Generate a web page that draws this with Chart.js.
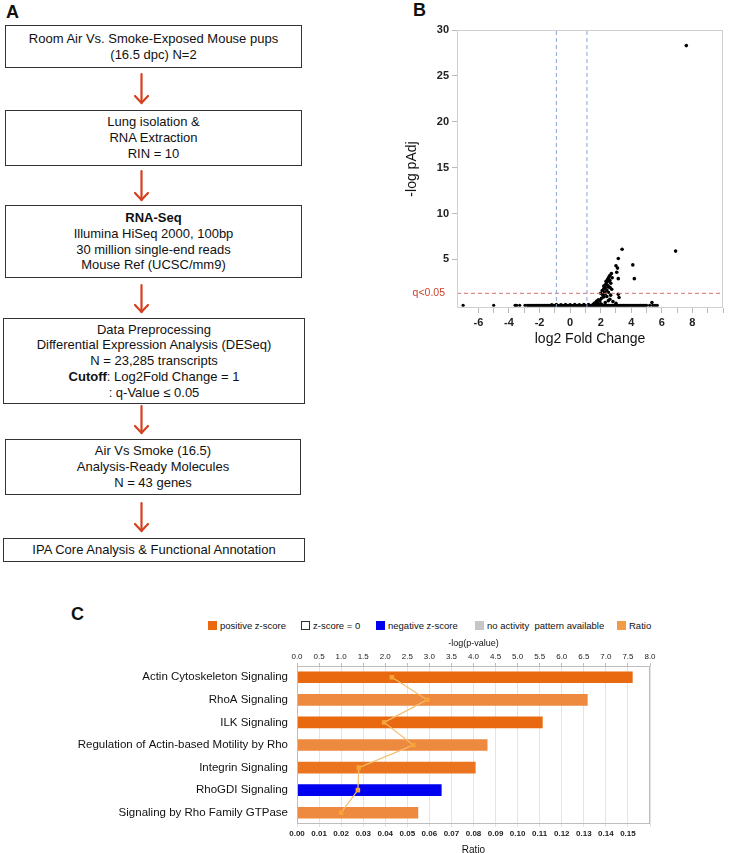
<!DOCTYPE html>
<html>
<head>
<meta charset="utf-8">
<script src="https://cdn.jsdelivr.net/npm/chart.js@4.4.0/dist/chart.umd.min.js"></script>
<style>
  html, body { margin: 0; padding: 0; background: #fff; }
  #page { position: relative; width: 730px; height: 853px; overflow: hidden;
    font-family: "Liberation Sans", Arial, Helvetica, sans-serif; color: #111; }
  .panel-label { position: absolute; font-weight: bold; font-size: 18px; line-height: 18px; }
  .box { position: absolute; border: 1px solid #333; box-sizing: border-box; display: flex;
    flex-direction: column; justify-content: center; align-items: center;
    font-size: 13px; line-height: 15.7px; text-align: center; white-space: nowrap; }
  .legend-item { position: absolute; top: 620px; font-size: 9.5px; line-height: 11px; white-space: pre; }
  .swatch { position: absolute; width: 9px; height: 9px; top: 1px; box-sizing: border-box; }
  canvas { position: absolute; }
</style>
</head>
<body>
<div id="page">
  <div class="panel-label" style="left:6px; top:3px;">A</div>
  <div class="panel-label" style="left:413px; top:1px;">B</div>
  <div class="panel-label" style="left:71px; top:605px;">C</div>

  <div class="box" style="left:5px; top:25px; width:297px; height:43px;">
    <div>Room Air Vs. Smoke-Exposed Mouse pups</div><div>(16.5 dpc) N=2</div>
  </div>
  <div class="box" style="left:5px; top:110px; width:297px; height:56px;">
    <div>Lung isolation &amp;</div><div>RNA Extraction</div><div>RIN = 10</div>
  </div>
  <div class="box" style="left:5px; top:205px; width:297px; height:73px;">
    <div><b>RNA-Seq</b></div><div>Illumina HiSeq 2000, 100bp</div>
    <div>30 million single-end reads</div><div>Mouse Ref (UCSC/mm9)</div>
  </div>
  <div class="box" style="left:3px; top:318px; width:302px; height:86px;">
    <div>Data Preprocessing</div><div>Differential Expression Analysis (DESeq)</div>
    <div>N = 23,285 transcripts</div><div><b>Cutoff</b>: Log2Fold Change = 1</div>
    <div>: q-Value ≤ 0.05</div>
  </div>
  <div class="box" style="left:5px; top:439px; width:296px; height:56px;">
    <div>Air Vs Smoke (16.5)</div><div>Analysis-Ready Molecules</div><div>N = 43 genes</div>
  </div>
  <div class="box" style="left:3px; top:538px; width:302px; height:24px;">
    <div>IPA Core Analysis &amp; Functional Annotation</div>
  </div>

  <svg style="position:absolute; left:0; top:0;" width="310" height="570">
    <g stroke="#d5401f" stroke-width="2.2" fill="none" stroke-linecap="round">
      <line x1="141.5" y1="74" x2="141.5" y2="103"/><polyline points="135,96 141.5,103 148,96"/>
      <line x1="141.5" y1="171" x2="141.5" y2="200"/><polyline points="135,193 141.5,200 148,193"/>
      <line x1="141.5" y1="285" x2="141.5" y2="312"/><polyline points="135,305 141.5,312 148,305"/>
      <line x1="141.5" y1="406" x2="141.5" y2="433"/><polyline points="135,426 141.5,433 148,426"/>
      <line x1="141.5" y1="503" x2="141.5" y2="531"/><polyline points="135,524 141.5,531 148,524"/>
    </g>
  </svg>

  <canvas id="volcano" style="left:380px; top:0px;" width="350" height="350"></canvas>

  <div id="ipaLegend"></div>
  <canvas id="ipa" style="left:0px; top:600px;" width="730" height="256"></canvas>
</div>

<script>
// ---- panel B: volcano plot ----
// genes sitting on the -log pAdj ~ 0 line
const baseX = [-7.0, -5.0, -3.6, -3.5, -3.3, -2.95, -2.8, -2.7, -2.6, -2.5, -2.4, -2.3,
  -2.2, -2.1, -2.0, -1.9, -1.8, -1.7, -1.6, -1.5, -1.4, -1.3, -1.2, -1.1, -1.0, -0.9,
  -0.8, -0.7, -0.6, -0.5, -0.4, -0.3, -0.2, -0.1, 0.0, 0.1, 0.2, 0.3, 0.4, 0.5, 0.6,
  0.7, 0.8, 0.9, 1.0, 1.1, 1.2, 1.3, 1.4, 1.5, 1.6, 1.7, 1.8, 1.9, 2.0, 2.1, 2.2, 2.3,
  2.4, 2.5, 2.6, 2.7, 2.8, 2.9, 3.0, 3.1, 3.2, 3.3, 3.4, 3.5, 3.6, 3.7, 3.8, 3.9, 4.0,
  4.1, 4.2, 4.3, 4.4, 4.5, 4.6, 4.7, 4.8, 4.9, 5.0, 5.2, 5.4, 5.55, 5.7];
// genes just above the line near the middle
const lowX = [-1.2, -0.9, -0.6, -0.3, 0.0, 0.3, 0.6, 0.9, 1.2, 1.5, 1.8, 2.1];
const lowY = [0.08, 0.1, 0.08, 0.1, 0.08, 0.1, 0.08, 0.1, 0.1, 0.12, 0.1, 0.08];
// genes off the baseline
const hitX = [7.6, 6.9, 3.4, 3.15, 3.0, 3.1, 4.1, 4.2, 3.05, 2.7, 2.6, 2.75, 2.5, 3.15,
  2.57, 2.4, 2.66, 2.3, 2.5, 2.2, 2.4, 2.72, 2.25, 2.5, 3.15, 2.15, 2.4, 2.05, 2.6, 3.2,
  1.95, 2.3, 1.8, 1.7, 1.9, 5.35, 2.55, 2.45, 2.35, 2.6, 2.2, 2.35, 2.45, 2.1, 2.3, 2.6,
  2.0, 2.3, 2.65, 2.2, 1.85, 2.5, 1.65, 1.75, 1.6, 2.0, 2.8, 3.0];
const hitY = [28.3, 5.9, 6.1, 5.1, 4.3, 4.05, 4.4, 2.9, 3.6, 3.45, 3.25, 3.0, 2.95, 2.9,
  2.65, 2.5, 2.4, 2.2, 2.0, 1.8, 1.65, 1.75, 1.45, 1.4, 1.2, 1.1, 0.95, 0.75, 0.65, 0.85,
  0.5, 0.3, 0.2, 0.35, 0.1, 0.3, 3.1, 2.8, 2.6, 2.7, 2.1, 2.3, 2.15, 1.6, 1.9, 1.95,
  1.3, 1.25, 1.1, 0.9, 0.6, 0.5, 0.15, 0.45, 0.25, 0.15, 0.4, 0.2];
const foldCutoffs = [-0.9, 1.1];
const qCutoff = 1.3;
const qLabel = 'q<0.05';

// ---- panel C: IPA canonical pathways ----
const pathways = ['Actin Cytoskeleton Signaling', 'RhoA Signaling', 'ILK Signaling',
  'Regulation of Actin-based Motility by Rho', 'Integrin Signaling', 'RhoGDI Signaling',
  'Signaling by Rho Family GTPase'];
const negLogP = [7.6, 6.58, 5.56, 4.31, 4.04, 3.27, 2.74];
const ratios = [0.043, 0.059, 0.0395, 0.0527, 0.028, 0.0276, 0.020];
const legendLabels = ['positive z-score', 'z-score = 0', 'negative z-score',
  'no activity  pattern available', 'Ratio'];

const FONT = '"Liberation Sans", Arial, Helvetica, sans-serif';
Chart.defaults.font.family = FONT;
Chart.defaults.color = '#111';
Chart.defaults.animation = false;
Chart.defaults.responsive = false;

const framePlugin = {
  id: 'frame',
  afterDatasetsDraw(chart, args, opts) {
    const {ctx, chartArea: a} = chart;
    ctx.save();
    ctx.strokeStyle = opts.color || '#c8c8c8';
    ctx.lineWidth = 1;
    ctx.strokeRect(a.left + 0.5, a.top + 0.5, a.right - a.left - 1, a.bottom - a.top - 1);
    ctx.restore();
  },
};

const qLabelPlugin = {
  id: 'qLabel',
  afterDraw(chart) {
    const {ctx, chartArea: a, scales} = chart;
    ctx.save();
    ctx.fillStyle = '#d3402c';
    ctx.font = '10.5px ' + FONT;
    ctx.textAlign = 'right';
    ctx.textBaseline = 'middle';
    ctx.fillText(qLabel, a.left - 12, scales.y.getPixelForValue(qCutoff));
    ctx.restore();
  },
};

const xMin = -7.4, xMax = 10, yMin = -0.3, yMax = 30;
const cutoffLines = foldCutoffs.map((fc) => ({
  data: [{x: fc, y: yMin}, {x: fc, y: yMax}],
  showLine: true, borderColor: '#86a3d6', borderWidth: 1, borderDash: [4, 3],
  pointRadius: 0,
}));

new Chart(document.getElementById('volcano'), {
  type: 'scatter',
  data: {
    datasets: [
      ...cutoffLines,
      {
        data: [{x: xMin, y: qCutoff}, {x: xMax, y: qCutoff}],
        showLine: true, borderColor: '#d27676', borderWidth: 1, borderDash: [4, 3],
        pointRadius: 0,
      },
      {
        data: baseX.map((x) => ({x, y: 0})),
        backgroundColor: '#000', borderWidth: 0, pointRadius: 1.6,
      },
      {
        data: lowX.map((x, i) => ({x, y: lowY[i]})),
        backgroundColor: '#000', borderWidth: 0, pointRadius: 1.6,
      },
      {
        data: hitX.map((x, i) => ({x, y: hitY[i]})),
        backgroundColor: '#000', borderWidth: 0, pointRadius: 1.8,
      },
    ],
  },
  options: {
    layout: {padding: {left: 22, top: 30, right: 7, bottom: 0}},
    plugins: {legend: {display: false}, tooltip: {enabled: false},
      frame: {color: '#cfcfcf'}},
    scales: {
      x: {
        type: 'linear', min: xMin, max: xMax,
        ticks: {stepSize: 1, padding: 3, font: {size: 11, weight: 'bold'}, color: '#222',
          maxRotation: 0, autoSkip: false,
          callback: (v) => (v >= -6 && v <= 8 && v % 2 === 0 ? v : '')},
        afterBuildTicks: (s) => { s.ticks = s.ticks.filter((t) => Number.isInteger(t.value)); },
        afterFit: (s) => { s.height = 42; },
        grid: {drawOnChartArea: false, tickLength: 5, color: '#bbb'},
        border: {display: false},
        title: {display: true, text: 'log2 Fold Change', font: {size: 14},
          padding: {top: 0, bottom: 2}},
      },
      y: {
        type: 'linear', min: yMin, max: yMax,
        ticks: {stepSize: 5, padding: 3, font: {size: 11, weight: 'bold'}, color: '#222'},
        afterBuildTicks: (s) => { s.ticks = s.ticks.filter((t) => t.value % 5 === 0); },
        afterFit: (s) => { s.width = 55; },
        grid: {drawOnChartArea: false, tickLength: 5, color: '#bbb'},
        border: {display: false},
        title: {display: true, text: '-log pAdj', font: {size: 14},
          padding: {top: 2, bottom: 0}},
      },
    },
  },
  plugins: [framePlugin, qLabelPlugin],
});

// ---- panel C legend ----
const legendSwatches = [
  {left: 208, style: 'background:#e8690f'},
  {left: 301, style: 'background:#fff; border:1px solid #333'},
  {left: 376, style: 'background:#0000ef'},
  {left: 475, style: 'background:#c6c6c6'},
  {left: 617, style: 'background:#f39a45'},
];
document.getElementById('ipaLegend').innerHTML = legendLabels.map((label, i) =>
  `<div class="legend-item" style="left:${legendSwatches[i].left}px">` +
  `<span class="swatch" style="left:0; ${legendSwatches[i].style}"></span>` +
  `<span style="margin-left:12px">${label}</span></div>`).join('');

const barColors = ['#e8690f', '#ee8a40', '#e8690f', '#ee8a40', '#ea7420', '#0000f0', '#ee8a40'];

new Chart(document.getElementById('ipa'), {
  type: 'bar',
  data: {
    labels: pathways,
    datasets: [
      {
        type: 'line', label: 'Ratio', data: ratios, xAxisID: 'xRatio', order: 0,
        borderColor: '#f6bd6c', borderWidth: 1.2, pointStyle: 'rect', pointRadius: 3.2,
        pointBackgroundColor: '#f7a436', pointBorderWidth: 0,
      },
      {
        type: 'bar', label: '-log(p-value)', data: negLogP, xAxisID: 'xP', order: 1,
        backgroundColor: barColors, barThickness: 11,
      },
    ],
  },
  options: {
    indexAxis: 'y',
    layout: {padding: {left: 0, top: 36, right: 80, bottom: 0}},
    plugins: {legend: {display: false}, tooltip: {enabled: false},
      frame: {color: '#bdbdbd'}},
    scales: {
      y: {
        type: 'category',
        ticks: {padding: 9, font: {size: 11.5}, color: '#111'},
        afterFit: (s) => { s.width = 297; },
        grid: {display: false, drawTicks: false},
        border: {display: false},
      },
      xP: {
        axis: 'x', type: 'linear', position: 'top', min: 0, max: 8,
        ticks: {stepSize: 0.5, padding: 1, font: {size: 8}, color: '#222',
          maxRotation: 0, autoSkip: false, callback: (v) => v.toFixed(1)},
        afterFit: (s) => { s.height = 30; },
        grid: {drawOnChartArea: false, tickLength: 3, color: '#bbb'},
        border: {display: false},
        title: {display: true, text: '-log(p-value)', font: {size: 9},
          padding: {top: 2, bottom: 0}},
      },
      xRatio: {
        axis: 'x', type: 'linear', position: 'bottom', min: 0, max: 0.16,
        ticks: {stepSize: 0.01, padding: 2, font: {size: 8, weight: 'bold'}, color: '#222',
          maxRotation: 0, autoSkip: false,
          callback: (v) => (v < 0.155 ? v.toFixed(2) : '')},
        afterFit: (s) => { s.height = 32; },
        grid: {color: '#e4e4e4', tickLength: 3},
        border: {display: false},
        title: {display: true, text: 'Ratio', font: {size: 10},
          padding: {top: 0, bottom: 0}},
      },
    },
  },
  plugins: [framePlugin],
});
</script>
</body>
</html>
